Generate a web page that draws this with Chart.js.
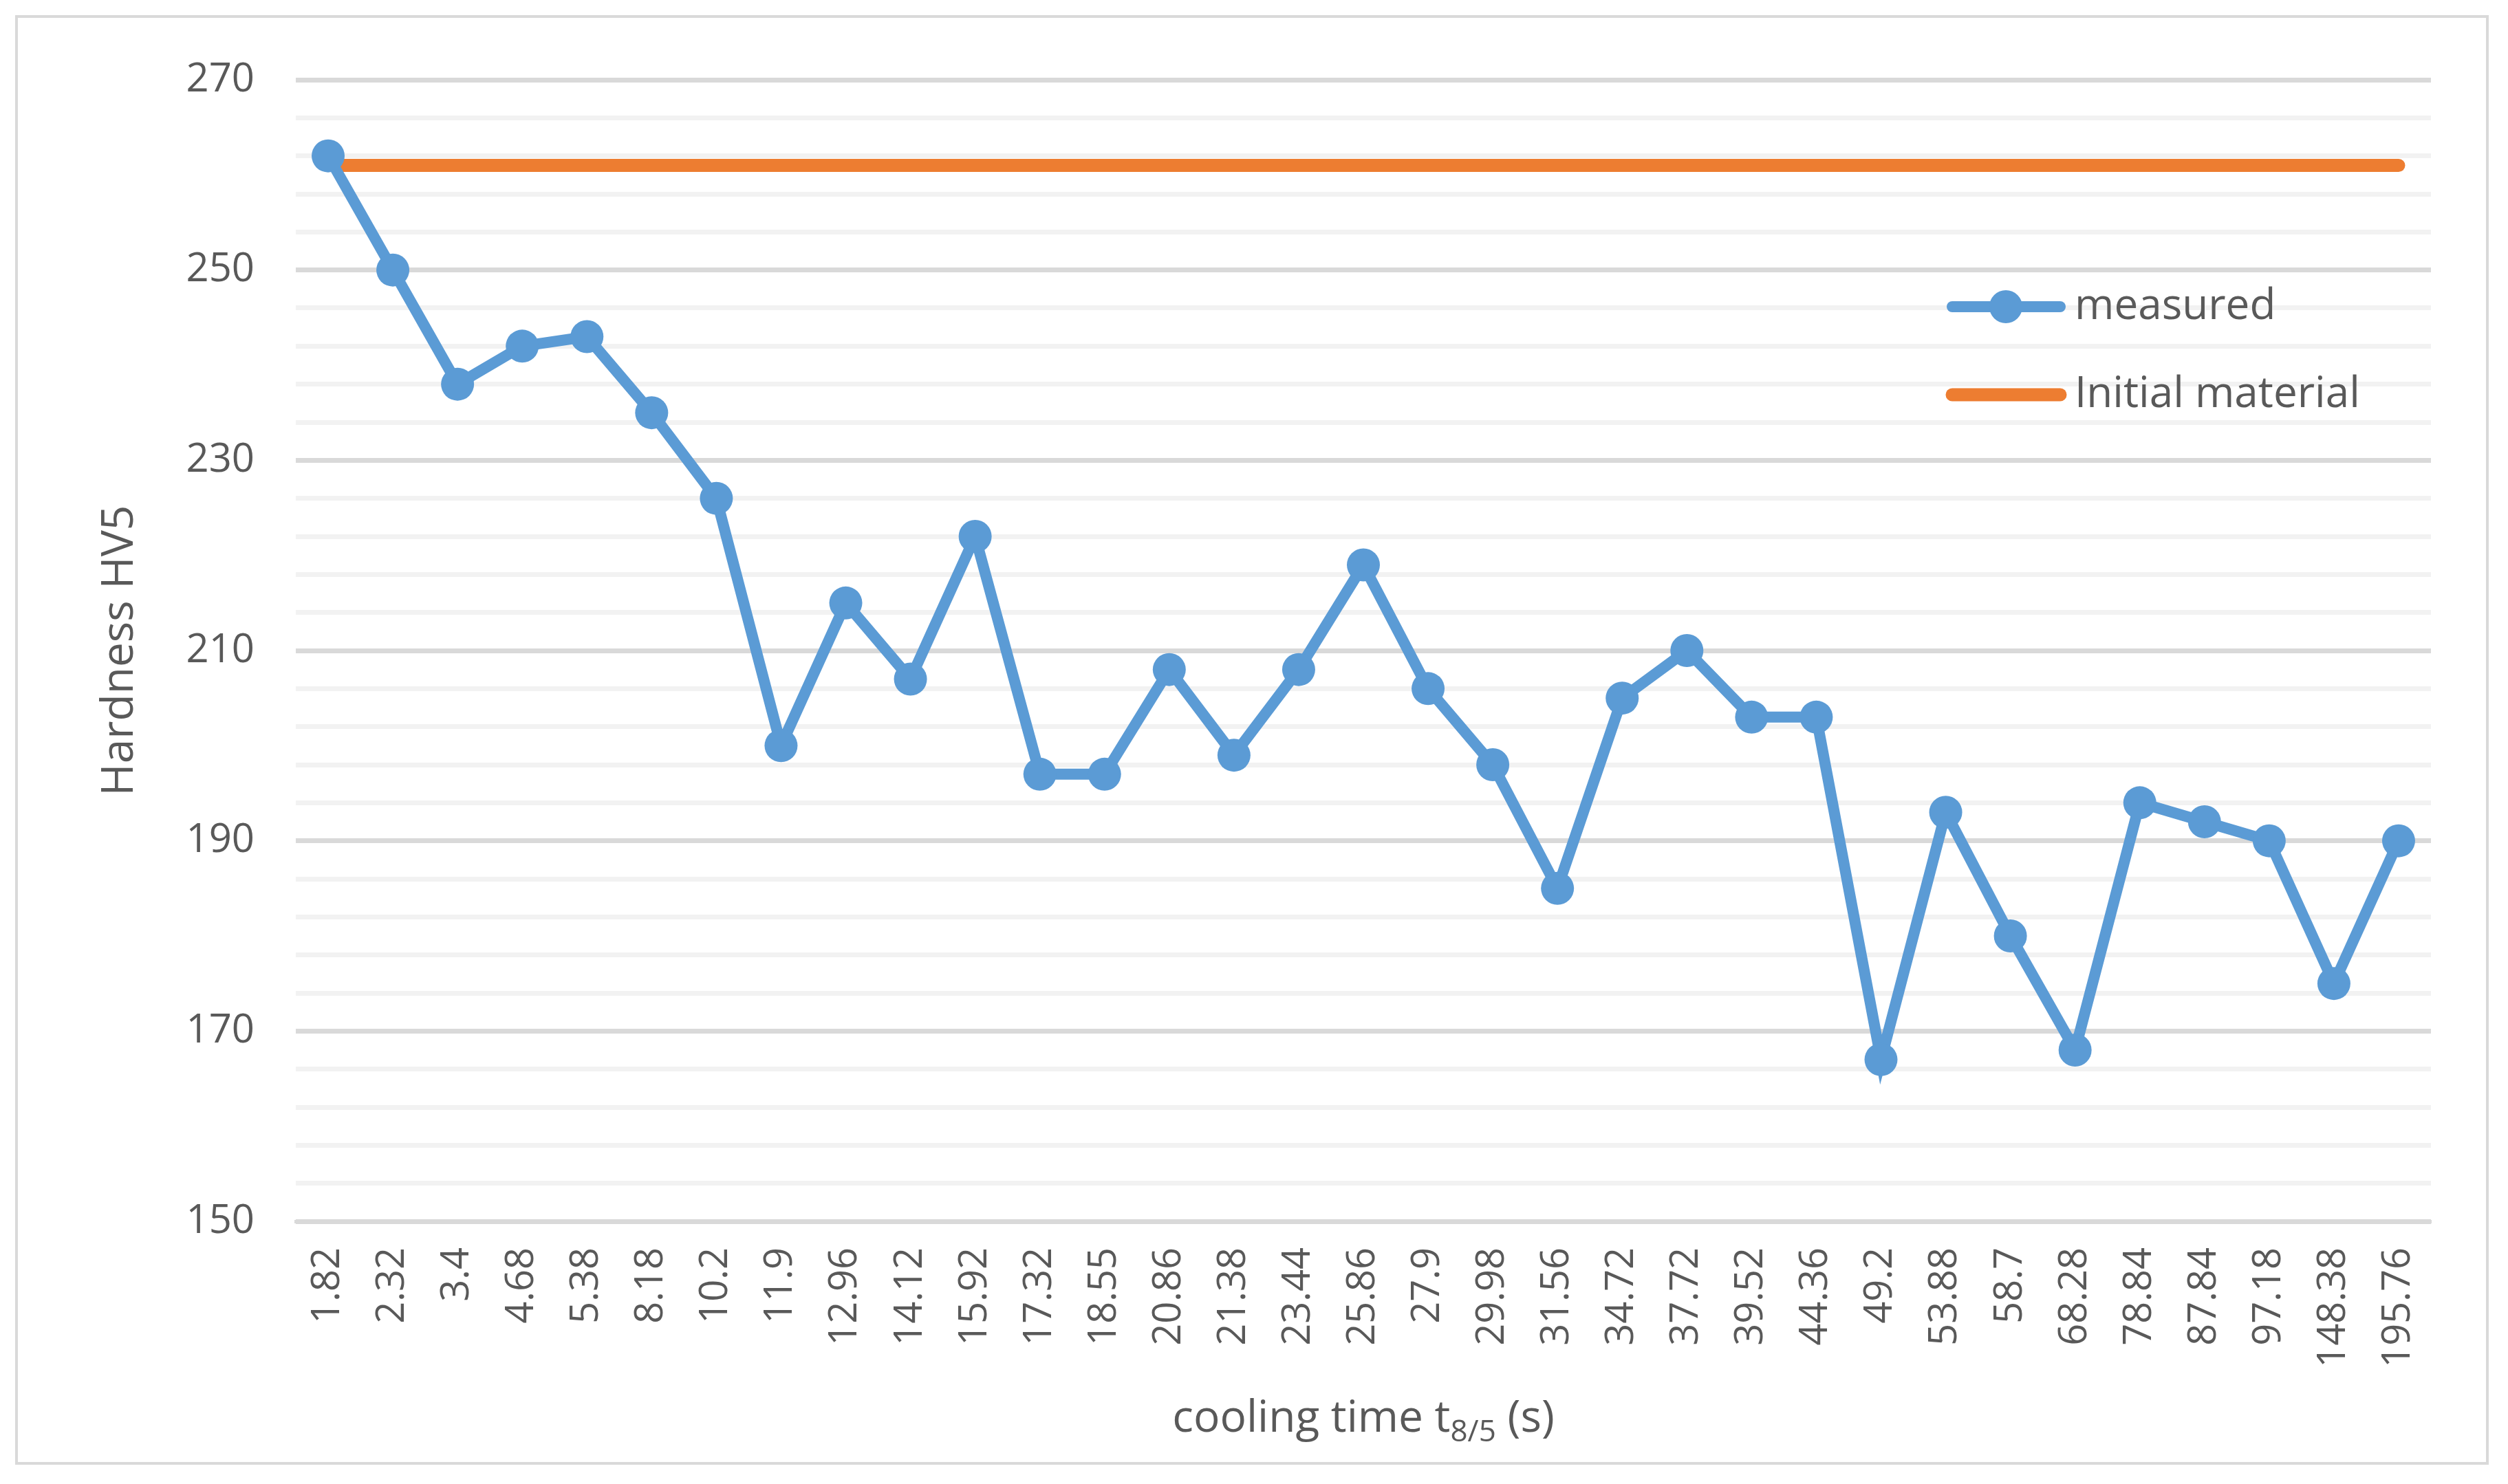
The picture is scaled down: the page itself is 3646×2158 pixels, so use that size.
<!DOCTYPE html>
<html><head><meta charset="utf-8">
<script src="https://cdn.jsdelivr.net/npm/chart.js@4"></script>
<style>html,body{margin:0;padding:0;background:#fff}
#box{position:absolute;left:22px;top:22px;width:3596px;height:2108px;border:4px solid #d9d9d9;box-sizing:border-box}
canvas{position:absolute;left:0;top:0}</style></head>
<body><div id="box"></div><canvas id="c" width="3646" height="2158"></canvas>
<script>
const categories=["1.82","2.32","3.4","4.68","5.38","8.18","10.2","11.9","12.96","14.12","15.92","17.32","18.55","20.86","21.38","23.44","25.86","27.9","29.98","31.56","34.72","37.72","39.52","44.36","49.2","53.88","58.7","68.28","78.84","87.84","97.18","148.38","195.76"];
const measured=[262,250,238,242,243,235,226,200,215,207,222,197,197,208,199,208,219,206,198,185,205,210,203,203,167,193,180,168,194,192,190,175,190];
const initialMaterial=categories.map(()=>261);
const yTicks=[150,170,190,210,230,250,270];
const gray='#595959', font='"Open Sans", "Liberation Sans", sans-serif';
const deco={id:'deco',afterDraw(ch){
 const c=ch.ctx;c.save();c.fillStyle=gray;
 c.save();c.translate(175,(ch.chartArea.top+ch.chartArea.bottom)/2);c.rotate(-Math.PI/2);
 c.font='64px '+font;c.textAlign='center';c.textBaseline='middle';c.fillText('Hardness HV5',0,0);c.restore();
 c.textBaseline='alphabetic';c.textAlign='left';
 const p1='cooling time t',sub='8/5',p2=' (s)';
 c.font='64px '+font;const w1=c.measureText(p1).width,w3=c.measureText(p2).width;
 c.font='44px '+font;const w2=c.measureText(sub).width;
 let x=(ch.chartArea.left+ch.chartArea.right)/2-(w1+w2+w3)/2,y=2082;
 c.font='64px '+font;c.fillText(p1,x,y);x+=w1;
 c.font='44px '+font;c.fillText(sub,x,y+14);x+=w2;
 c.font='64px '+font;c.fillText(p2,x,y);
 const items=[[ch.data.datasets[0],446,true],[ch.data.datasets[1],574,false]];
 for(const [ds,ly,pt] of items){
  c.strokeStyle=ds.borderColor;c.lineWidth=pt?16:19;c.lineCap='round';
  c.beginPath();c.moveTo(2838,ly);c.lineTo(2995,ly);c.stroke();
  if(pt){c.fillStyle=ds.borderColor;c.beginPath();c.arc(2916,ly,24,0,Math.PI*2);c.fill();}
  c.fillStyle=gray;c.font='62px '+font;c.textBaseline='middle';c.fillText(ds.label,3016,ly);
 }
 c.restore();}};
new Chart(document.getElementById('c'),{type:'line',
 data:{labels:categories,datasets:[
  {label:'measured',data:measured,borderColor:'#5B9BD5',backgroundColor:'#5B9BD5',borderWidth:16,pointRadius:24,pointBorderWidth:0,pointHoverRadius:24,tension:0,order:1},
  {label:'Initial material',data:initialMaterial,borderColor:'#ED7D31',backgroundColor:'#ED7D31',borderWidth:19,pointRadius:0,borderCapStyle:'round',order:2}]},
 options:{responsive:false,animation:false,devicePixelRatio:1,
  layout:{padding:{top:116,right:112,left:0,bottom:0}},
  plugins:{legend:{display:false},tooltip:{enabled:false}},
  scales:{
   x:{offset:true,grid:{display:false},border:{display:true,color:'#d9d9d9',width:5},
      ticks:{color:gray,font:{size:56,family:font},maxRotation:90,minRotation:90,autoSkip:false,padding:30},
      afterFit(s){s.height=2158-1776;}},
   y:{min:150,max:270,border:{display:false},
      ticks:{stepSize:4,autoSkip:false,color:gray,font:{size:58,family:font},padding:60,callback:v=>yTicks.includes(v)?String(v):''},
      grid:{color:ctx=>yTicks.includes(ctx.tick.value)?'#d9d9d9':'#f2f2f2',lineWidth:7,drawTicks:false},
      afterFit(s){s.width=430;}}}},
 plugins:[deco]});
</script></body></html>
